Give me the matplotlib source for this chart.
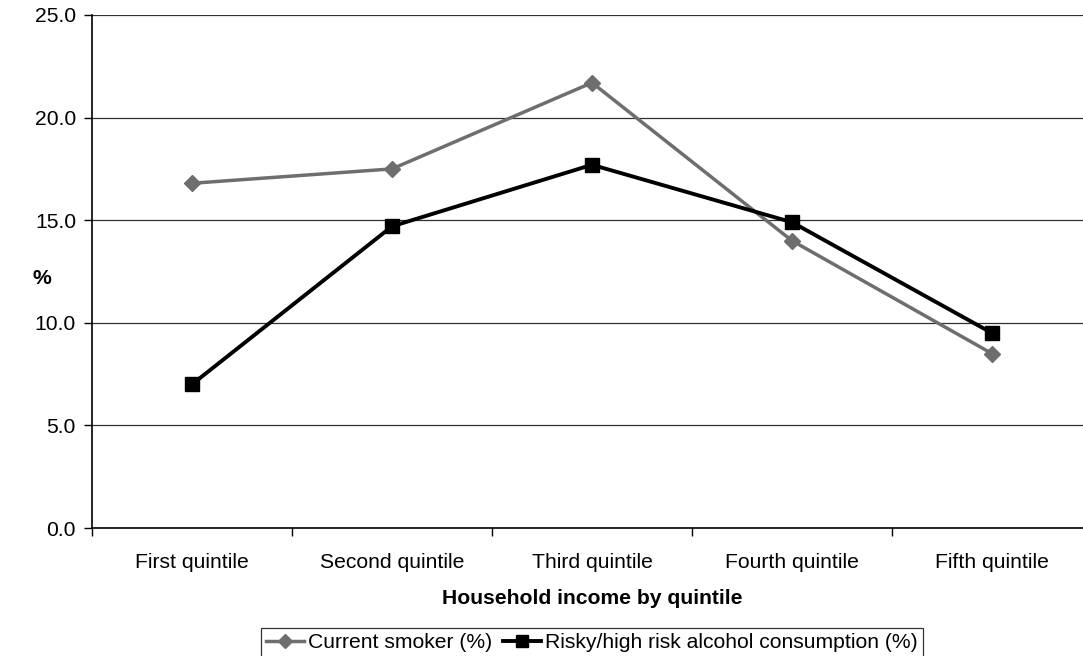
import matplotlib
matplotlib.use("Agg")
import matplotlib.pyplot as plt

plt.rcParams['font.family'] = ['Liberation Sans', 'DejaVu Sans']

categories = ["First quintile", "Second quintile", "Third quintile",
              "Fourth quintile", "Fifth quintile"]
smoker = [16.8, 17.5, 21.7, 14.0, 8.5]
alcohol = [7.0, 14.7, 17.7, 14.9, 9.5]
y_ticks = [0, 5, 10, 15, 20, 25]

FS = 15.2
W, H = 1083, 656
fig = plt.figure(figsize=(W / 100, H / 100), dpi=100)
# plot area spans 92..1092 px horizontally, 15..528 px vertically
ax = fig.add_axes([92 / W, (H - 528) / H, 1000 / W, (528 - 15) / H])

x = list(range(len(categories)))
ax.plot(x, smoker, color="#6e6e6e", lw=2.5, marker="D", ms=8.5,
        mfc="#6e6e6e", mec="#6e6e6e", label="Current smoker (%)", zorder=3)
ax.plot(x, alcohol, color="black", lw=2.8, marker="s", ms=10,
        mfc="black", mec="black", label="Risky/high risk alcohol consumption (%)",
        zorder=4)

ax.set_xlim(-0.5, len(categories) - 0.5)
ax.set_ylim(0, 25)
ax.set_yticks(y_ticks)
ax.set_yticklabels([f"{v:.1f}" for v in y_ticks], fontsize=FS)
ax.set_xticks(x)
ax.set_xticklabels(categories, fontsize=FS)
ax.tick_params(axis="x", length=0, pad=18)
ax.set_xticks([i - 0.5 for i in range(len(categories) + 1)], minor=True)
ax.tick_params(axis="x", which="minor", length=5.5, width=1, direction="out")
ax.tick_params(axis="y", length=5.5, width=1, direction="out", pad=6)

ax.yaxis.grid(True, color="#303030", lw=0.9)
ax.set_axisbelow(True)
for side in ("top", "right"):
    ax.spines[side].set_visible(False)
ax.spines["left"].set_linewidth(1.2)
ax.spines["bottom"].set_linewidth(1.2)

ax.set_xlabel("Household income by quintile", fontsize=FS, fontweight="bold",
              labelpad=12)
fig.text(42 / W, 1 - 278 / H, "%", fontsize=FS, fontweight="bold",
         ha="center", va="center")

leg = fig.legend(loc="center", bbox_to_anchor=(592 / W, 1 - 643 / H), ncol=2,
                 fontsize=FS, frameon=True, fancybox=False, edgecolor="black",
                 handlelength=1.8, handletextpad=0.2, columnspacing=0.5,
                 borderpad=0.25, borderaxespad=0, markerscale=0.85)
leg.get_frame().set_linewidth(0.9)

fig.savefig("out.png", dpi=100)
